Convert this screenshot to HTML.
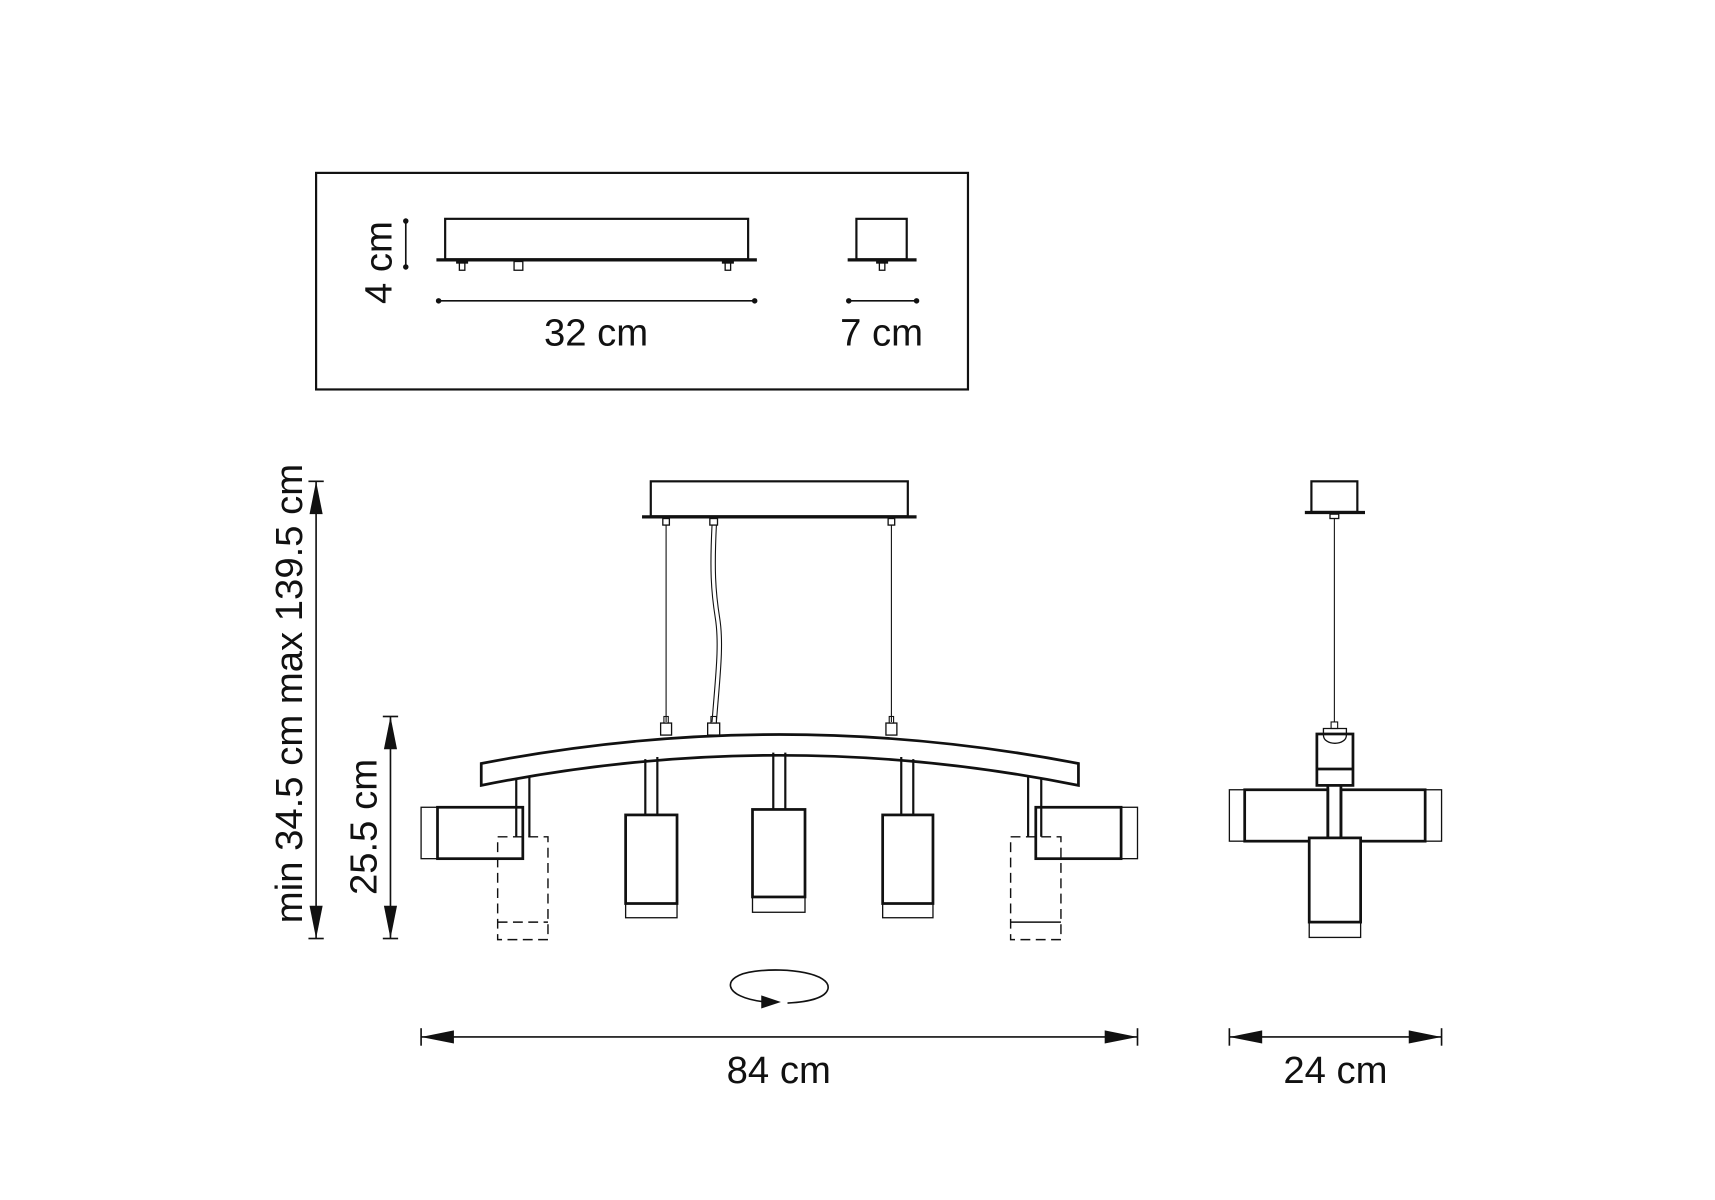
<!DOCTYPE html>
<html><head><meta charset="utf-8"><style>
html,body{margin:0;padding:0;background:#fff;}
svg{display:block;}
text{font-family:"Liberation Sans",sans-serif;fill:#111;}
</style></head><body>
<svg width="1715" height="1200" viewBox="0 0 1568 1097" xmlns="http://www.w3.org/2000/svg">
<g fill="none" stroke="#111">
<rect x="289" y="158" width="596" height="198" stroke-width="2"/>
<rect x="407" y="200" width="277" height="37" stroke-width="2"/>
<line x1="399" y1="237.5" x2="692" y2="237.5" stroke-width="3"/>
<rect x="420" y="239" width="5" height="8" stroke-width="1.2"/><line x1="417" y1="240" x2="428" y2="240" stroke-width="2"/>
<rect x="470" y="239" width="8" height="8" stroke-width="1.2"/>
<rect x="663" y="239" width="5" height="8" stroke-width="1.2"/><line x1="660" y1="240" x2="671" y2="240" stroke-width="2"/>
<line x1="371" y1="202" x2="371" y2="244" stroke-width="1.5"/>
<line x1="401" y1="275" x2="690" y2="275" stroke-width="1.5"/>
<rect x="783" y="200" width="46" height="37" stroke-width="2"/>
<line x1="775" y1="237.5" x2="838" y2="237.5" stroke-width="3"/>
<rect x="804" y="239" width="5" height="8" stroke-width="1.2"/><line x1="801" y1="240" x2="812" y2="240" stroke-width="2"/>
<line x1="776" y1="275" x2="838" y2="275" stroke-width="1.5"/>
</g>
<g fill="#111">
<circle cx="371" cy="202" r="2.5"/><circle cx="371" cy="244" r="2.5"/>
<circle cx="401" cy="275" r="2.5"/><circle cx="690" cy="275" r="2.5"/>
<circle cx="776" cy="275" r="2.5"/><circle cx="838" cy="275" r="2.5"/>
</g>
<text x="545" y="316" font-size="35" text-anchor="middle">32 cm</text>
<text x="806" y="316" font-size="35" text-anchor="middle">7 cm</text>
<text transform="translate(358,240) rotate(-90)" font-size="35" text-anchor="middle">4 cm</text>

<g fill="none" stroke="#111">
<rect x="595" y="440" width="235" height="32" stroke-width="2"/>
<line x1="587" y1="472.5" x2="838" y2="472.5" stroke-width="3"/>
<rect x="606" y="474" width="6" height="6" stroke-width="1.2"/>
<rect x="649" y="474" width="7" height="6" stroke-width="1.2"/>
<rect x="812" y="474" width="6" height="6" stroke-width="1.2"/>
<line x1="609" y1="480" x2="609" y2="660" stroke-width="1"/>
<line x1="815" y1="480" x2="815" y2="660" stroke-width="1"/>
<path d="M651,480 C649,520 650,540 654,565 C658,590 654,620 651,660" stroke-width="1"/>
<path d="M655,480 C653,520 654,540 658,565 C662,590 658,620 655,660" stroke-width="1"/>
<rect x="607" y="655" width="4" height="6" stroke-width="1"/><rect x="604" y="661" width="10" height="11" stroke-width="1.2"/>
<rect x="650" y="655" width="5" height="6" stroke-width="1"/><rect x="647" y="661" width="11" height="11" stroke-width="1.2"/>
<rect x="813" y="655" width="4" height="6" stroke-width="1"/><rect x="810" y="661" width="10" height="11" stroke-width="1.2"/>
<path d="M440,698 Q712,645 986,698 L986,718 Q712,663 440,718 Z" stroke-width="2.5"/>
<path d="M472,712 V765 M484,709 V765" stroke-width="2"/>
<path d="M590,694 V745 M601,692 V745" stroke-width="2"/>
<path d="M707,688 V740 M718,688 V740" stroke-width="2"/>
<path d="M824,692 V745 M835,694 V745" stroke-width="2"/>
<path d="M940,709 V765 M952,712 V765" stroke-width="2"/>
<rect x="400" y="738" width="78" height="47" stroke-width="2.5"/>
<rect x="385" y="738" width="15" height="47" stroke-width="1.2"/>
<rect x="455" y="765" width="46" height="94" stroke-width="1.3" stroke-dasharray="9,5"/>
<line x1="455" y1="843" x2="501" y2="843" stroke-width="1.3" stroke-dasharray="9,5"/>
<rect x="572" y="745" width="47" height="81" stroke-width="2.5"/>
<rect x="572" y="826" width="47" height="13" stroke-width="1.2"/>
<rect x="688" y="740" width="48" height="80" stroke-width="2.5"/>
<rect x="688" y="820" width="48" height="14" stroke-width="1.2"/>
<rect x="807" y="745" width="46" height="81" stroke-width="2.5"/>
<rect x="807" y="826" width="46" height="13" stroke-width="1.2"/>
<rect x="947" y="738" width="78" height="47" stroke-width="2.5"/>
<rect x="1025" y="738" width="15" height="47" stroke-width="1.2"/>
<rect x="924" y="765" width="46" height="94" stroke-width="1.3" stroke-dasharray="9,5"/>
<line x1="924" y1="843" x2="970" y2="843" stroke-width="1.3"/>
<path d="M700,916 C660,912 658,892 690,888 C720,884 760,890 757,904 C755,912 740,916 720,917" stroke-width="1.5"/>
</g>
<path d="M696,910 L714,916 L696,922 Z" fill="#111"/>

<g stroke="#111" fill="none" stroke-width="1.5">
<line x1="385" y1="948" x2="1040" y2="948"/>
<line x1="385" y1="940" x2="385" y2="956"/><line x1="1040" y1="940" x2="1040" y2="956"/>
<line x1="1124" y1="948" x2="1318" y2="948"/>
<line x1="1124" y1="940" x2="1124" y2="956"/><line x1="1318" y1="940" x2="1318" y2="956"/>
<line x1="289" y1="440" x2="289" y2="858"/>
<line x1="282" y1="440" x2="296" y2="440"/><line x1="282" y1="858" x2="296" y2="858"/>
<line x1="357" y1="655" x2="357" y2="858"/>
<line x1="350" y1="655" x2="364" y2="655"/><line x1="350" y1="858" x2="364" y2="858"/>
</g>
<g fill="#111">
<path d="M385,948 L415,942 L415,954 Z"/><path d="M1040,948 L1010,942 L1010,954 Z"/>
<path d="M1124,948 L1154,942 L1154,954 Z"/><path d="M1318,948 L1288,942 L1288,954 Z"/>
<path d="M289,440 L283,470 L295,470 Z"/><path d="M289,858 L283,828 L295,828 Z"/>
<path d="M357,655 L351,685 L363,685 Z"/><path d="M357,858 L351,828 L363,828 Z"/>
</g>
<text x="712" y="990" font-size="35" text-anchor="middle">84 cm</text>
<text x="1221" y="990" font-size="35" text-anchor="middle">24 cm</text>
<text transform="translate(276,634) rotate(-90)" font-size="35" text-anchor="middle">min 34.5 cm max 139.5 cm</text>
<text transform="translate(344,756) rotate(-90)" font-size="35" text-anchor="middle">25.5 cm</text>

<g fill="none" stroke="#111">
<rect x="1199" y="440" width="42" height="28" stroke-width="2"/>
<line x1="1193" y1="468.5" x2="1248" y2="468.5" stroke-width="3"/>
<rect x="1216" y="470" width="8" height="4" stroke-width="1.2"/>
<line x1="1220" y1="474" x2="1220" y2="660" stroke-width="1"/>
<rect x="1217" y="660" width="6" height="6" stroke-width="1"/>
<path d="M1210,666 H1231 V672 C1231,682 1210,682 1210,672 Z" stroke-width="1.2"/>
<rect x="1204" y="671" width="33" height="47" stroke-width="2.5"/>
<line x1="1204" y1="703" x2="1237" y2="703" stroke-width="2.5"/>
<path d="M1214,718 V766 M1226,718 V766" stroke-width="2.5"/>
<rect x="1138" y="722" width="76" height="47" stroke-width="2.5"/>
<rect x="1124" y="722" width="14" height="47" stroke-width="1.2"/>
<rect x="1226" y="722" width="77" height="47" stroke-width="2.5"/>
<rect x="1303" y="722" width="15" height="47" stroke-width="1.2"/>
<rect x="1197" y="766" width="47" height="77" stroke-width="2.5" fill="#fff"/>
<rect x="1197" y="843" width="47" height="14" stroke-width="1.2"/>
</g>
</svg>
</body></html>
